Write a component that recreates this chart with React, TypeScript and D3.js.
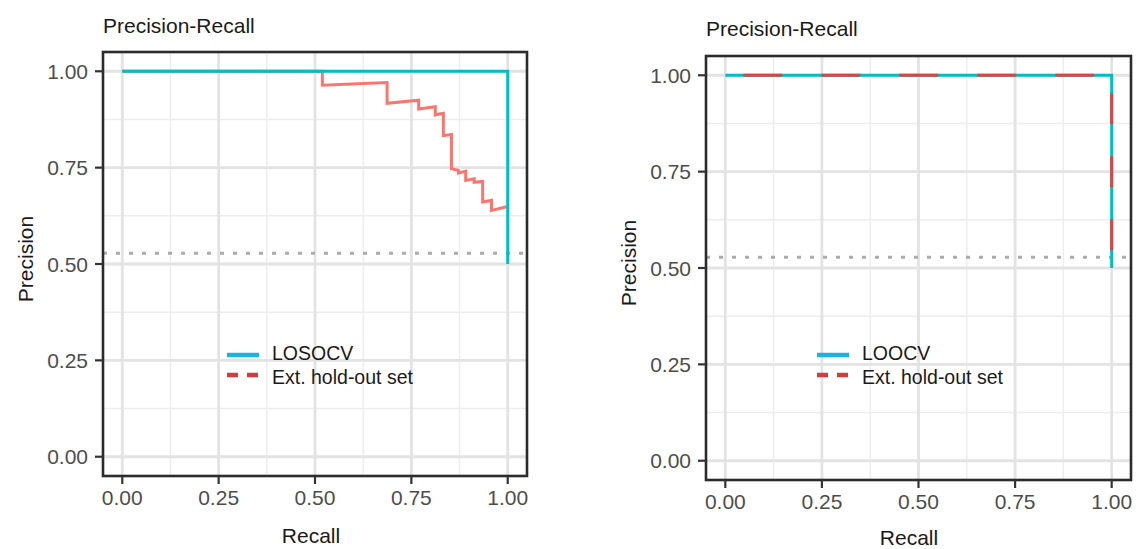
import React from "react";
import * as d3 from "d3";

const tickValues = [0, 0.25, 0.5, 0.75, 1];
const tickLabels = ["0.00", "0.25", "0.50", "0.75", "1.00"];
const minorValues = [0.125, 0.375, 0.625, 0.875];

const losocvRecall = [0, 1, 1];
const losocvPrecision = [1, 1, 0.5];
const extLeftRecall = [0, 0.519, 0.519, 0.687, 0.687, 0.769, 0.769, 0.812, 0.812, 0.833, 0.833, 0.854, 0.854, 0.872, 0.872, 0.891, 0.891, 0.913, 0.913, 0.935, 0.935, 0.958, 0.958, 1.0];
const extLeftPrecision = [1, 1.0, 0.964, 0.971, 0.917, 0.925, 0.902, 0.908, 0.887, 0.891, 0.833, 0.836, 0.747, 0.743, 0.736, 0.741, 0.717, 0.721, 0.712, 0.714, 0.661, 0.665, 0.639, 0.649];

const loocvRecall = [0, 1, 1];
const loocvPrecision = [1, 1, 0.5];
const extRightRecall = [0, 1, 1];
const extRightPrecision = [1, 1, 0.5];

const baselinePrecision = 0.528;

const TEAL = "#00BFC4";
const SALMON = "#F8766D";
const RED_DASH = "#D94646";
const KEY_BLUE = "#1CB2E2";
const KEY_RED = "#D43C3C";
const FONT = "'Liberation Sans', Arial, Helvetica, sans-serif";

type PanelProps = {
  x0: number; x1: number; y0: number; y1: number;
  titleBaseline: number; xTitleX: number; xTitleY: number; yTitleX: number; yTitleY: number;
  legendX: number; seriesName: string;
  children: (x: d3.ScaleLinear<number, number>, y: d3.ScaleLinear<number, number>) => React.ReactNode;
};

function Panel(p: PanelProps) {
  const x = d3.scaleLinear().domain([-0.05, 1.05]).range([p.x0, p.x1]);
  const y = d3.scaleLinear().domain([-0.05, 1.05]).range([p.y1, p.y0]);
  const line = d3.line<[number, number]>().x((d) => x(d[0])).y((d) => y(d[1]));
  return (
    <g>
      <text x={p.x0} y={p.titleBaseline} fontFamily={FONT} fontSize={21} fill="#1a1a1a">Precision-Recall</text>
      {minorValues.map((v) => (
        <g key={"m" + v}>
          <line x1={x(v)} x2={x(v)} y1={p.y0} y2={p.y1} stroke="#ededed" strokeWidth={1.4} />
          <line x1={p.x0} x2={p.x1} y1={y(v)} y2={y(v)} stroke="#ededed" strokeWidth={1.4} />
        </g>
      ))}
      {tickValues.map((v) => (
        <g key={"M" + v}>
          <line x1={x(v)} x2={x(v)} y1={p.y0} y2={p.y1} stroke="#e3e3e3" strokeWidth={2.8} />
          <line x1={p.x0} x2={p.x1} y1={y(v)} y2={y(v)} stroke="#e3e3e3" strokeWidth={2.8} />
        </g>
      ))}
      <path
        d={line([[-0.05, baselinePrecision], [1.05, baselinePrecision]]) || ""}
        stroke="#ababab" strokeWidth={3} strokeDasharray="4 9" fill="none"
      />
      {p.children(x, y)}
      <rect x={p.x0} y={p.y0} width={p.x1 - p.x0} height={p.y1 - p.y0} fill="none" stroke="#2b2b2b" strokeWidth={2.6} />
      {tickValues.map((v, i) => (
        <g key={"t" + v}>
          <line x1={p.x0 - 8} x2={p.x0} y1={y(v)} y2={y(v)} stroke="#333" strokeWidth={2.2} />
          <text x={p.x0 - 15} y={y(v) + 7.5} textAnchor="end" fontFamily={FONT} fontSize={21} fill="#4d4d4d">{tickLabels[i]}</text>
          <line x1={x(v)} x2={x(v)} y1={p.y1} y2={p.y1 + 8} stroke="#333" strokeWidth={2.2} />
          <text x={x(v)} y={p.y1 + 29} textAnchor="middle" fontFamily={FONT} fontSize={21} fill="#4d4d4d">{tickLabels[i]}</text>
        </g>
      ))}
      <text x={p.xTitleX} y={p.xTitleY} textAnchor="middle" fontFamily={FONT} fontSize={21} fill="#1a1a1a">Recall</text>
      <text transform={`translate(${p.yTitleX},${p.yTitleY}) rotate(-90)`} textAnchor="middle" fontFamily={FONT} fontSize={21} fill="#1a1a1a">Precision</text>
      <line x1={p.legendX} x2={p.legendX + 32} y1={355} y2={355} stroke={KEY_BLUE} strokeWidth={4.5} />
      <line x1={p.legendX} x2={p.legendX + 32} y1={375} y2={375} stroke={KEY_RED} strokeWidth={4.5} strokeDasharray="11 9" />
      <text x={p.legendX + 45} y={359.5} fontFamily={FONT} fontSize={19.5} fill="#1a1a1a">{p.seriesName}</text>
      <text x={p.legendX + 45} y={383.5} fontFamily={FONT} fontSize={19.5} fill="#1a1a1a">Ext. hold-out set</text>
    </g>
  );
}

const zip = (a: number[], b: number[]) => a.map((v, i) => [v, b[i]] as [number, number]);

export default function App() {
  return (
    <svg width={1136} height={549} style={{ position: "absolute", left: 0, top: 0, background: "#fff" }}>
      <rect width={1136} height={549} fill="#fff" />
      <Panel x0={103} x1={527} y0={52} y1={476} titleBaseline={33} xTitleX={311} xTitleY={543} yTitleX={33} yTitleY={259} legendX={227} seriesName="LOSOCV">
        {(x, y) => {
          const line = d3.line<[number, number]>().x((d) => x(d[0])).y((d) => y(d[1]));
          return (
            <g fill="none" strokeLinejoin="miter">
              <path d={line(zip(extLeftRecall, extLeftPrecision)) || ""} stroke={SALMON} strokeWidth={3} />
              <path d={line(zip(losocvRecall, losocvPrecision)) || ""} stroke={TEAL} strokeWidth={3} />
            </g>
          );
        }}
      </Panel>
      <Panel x0={706} x1={1131} y0={56} y1={480} titleBaseline={36} xTitleX={909} xTitleY={545} yTitleX={636} yTitleY={263} legendX={817} seriesName="LOOCV">
        {(x, y) => {
          const line = d3.line<[number, number]>().x((d) => x(d[0])).y((d) => y(d[1]));
          const pts = zip(extRightRecall, extRightPrecision);
          return (
            <g fill="none">
              <path d={line(zip(loocvRecall, loocvPrecision)) || ""} stroke={TEAL} strokeWidth={3} />
              <path d={line([pts[0], pts[1]]) || ""} stroke={RED_DASH} strokeWidth={3} strokeDasharray="39 39" strokeDashoffset={60} />
              <path d={line([pts[1], pts[2]]) || ""} stroke={RED_DASH} strokeWidth={3} strokeDasharray="31 32" strokeDashoffset={45} />
            </g>
          );
        }}
      </Panel>
    </svg>
  );
}
